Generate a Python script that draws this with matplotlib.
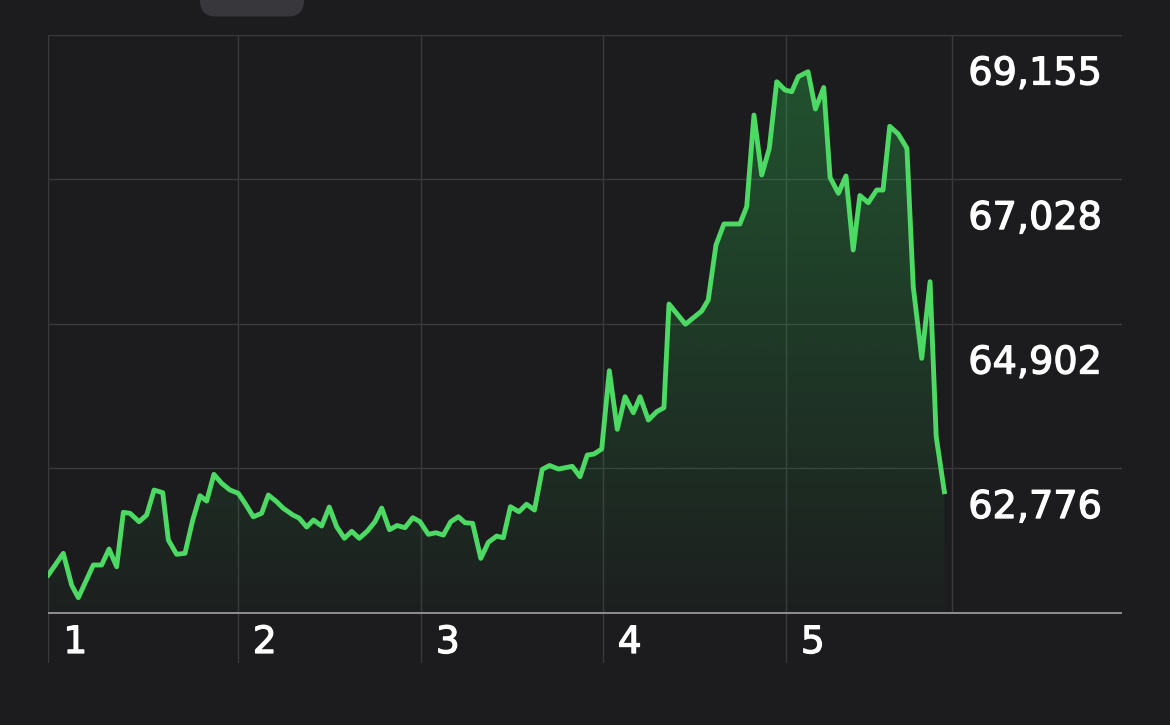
import numpy as np
import matplotlib
matplotlib.use("Agg")
import matplotlib.pyplot as plt
import matplotlib.patheffects as pe
from matplotlib.patches import FancyBboxPatch
from matplotlib.transforms import IdentityTransform

# price path over 5 sessions (x in days from start of window)
t = [0.000, 0.083, 0.129, 0.166, 0.249, 0.295, 0.336, 0.378, 0.415, 0.452,
     0.502, 0.544, 0.585, 0.633, 0.664, 0.710, 0.756, 0.799, 0.839, 0.876,
     0.916, 0.959, 1.005, 1.051, 1.088, 1.134, 1.180, 1.217, 1.263, 1.298,
     1.353, 1.387, 1.429, 1.467, 1.512, 1.554, 1.595, 1.638, 1.678, 1.720,
     1.765, 1.807, 1.844, 1.887, 1.929, 1.973, 2.016, 2.056, 2.102, 2.144,
     2.185, 2.226, 2.268, 2.305, 2.347, 2.392, 2.434, 2.480, 2.517, 2.556,
     2.603, 2.645, 2.689, 2.732, 2.773, 2.821, 2.898, 2.941, 2.981, 3.018,
     3.061, 3.103, 3.147, 3.190, 3.236, 3.273, 3.319, 3.365, 3.405, 3.433,
     3.524, 3.614, 3.650, 3.693, 3.737, 3.825, 3.863, 3.903, 3.946, 3.988,
     4.029, 4.075, 4.112, 4.148, 4.202, 4.243, 4.289, 4.324, 4.370, 4.412,
     4.452, 4.489, 4.535, 4.582, 4.617, 4.654, 4.701, 4.749, 4.784, 4.831,
     4.877, 4.911, 4.956]
price = [61202, 61521, 61054, 60868, 61349, 61349, 61584, 61324, 62124, 62110,
         61986, 62084, 62452, 62413, 61717, 61506, 61521, 62011, 62368, 62290,
         62683, 62551, 62452, 62404, 62257, 62059, 62110, 62379, 62280, 62187,
         62084, 62040, 61908, 62011, 61923, 62202, 61912, 61742, 61845, 61742,
         61849, 61986, 62187, 61868, 61930, 61898, 62045, 61986, 61800, 61824,
         61790, 61986, 62059, 61971, 61962, 61447, 61683, 61775, 61750, 62207,
         62133, 62243, 62158, 62757, 62813, 62761, 62801, 62648, 62967, 62982,
         63056, 64208, 63346, 63825, 63590, 63825, 63482, 63605, 63663, 65189,
         64892, 65086, 65248, 66058, 66367, 66367, 66621, 67970, 67088, 67480,
         68460, 68338, 68313, 68534, 68608, 68059, 68375, 67051, 66818, 67073,
         65984, 66786, 66680, 66867, 66867, 67804, 67691, 67480, 65444, 64390,
         65518, 63237, 62427]

day_starts = [0.0, 1.048, 2.060, 3.066, 4.079]
day_labels = ["1", "2", "3", "4", "5"]
y_ticks = [69155, 67028, 64902, 62776]
y_labels = ["69,155", "67,028", "64,902", "62,776"]
baseline = 60650
window_end = 5.0

BG = "#1c1c1e"
GRID = "#3a3a3c"
GREEN = "#4cd964"
font = ["DejaVu Sans"]
heavy = [pe.withStroke(linewidth=0.9, foreground="white")]

fig = plt.figure(figsize=(11.7, 7.25), dpi=100, facecolor=BG)
ax = fig.add_axes([48.3 / 1170, 62 / 725, 1073.4 / 1170, 628.5 / 725])
ax.set_facecolor(BG)
ax.axis("off")

x_max = 5.937
y_min, y_max = 59907, 69155

# grid
ax.hlines(y_ticks, 0, x_max, color=GRID, lw=1.0, zorder=1)
ax.hlines(baseline, 0, x_max, color="#8e8e93", lw=1.4, zorder=4)
ax.vlines(day_starts, y_min, y_max, color=GRID, lw=1.0, zorder=1)
ax.vlines(window_end, baseline, y_max, color=GRID, lw=1.0, zorder=1)

# gradient fill under the line
poly = ax.fill_between(t, price, baseline, facecolor="none", edgecolor="none")
n = 256
grad = np.zeros((n, 1, 4))
grad[:, 0, 0] = 48 / 255
grad[:, 0, 1] = 209 / 255
grad[:, 0, 2] = 88 / 255
grad[:, 0, 3] = np.linspace(0.02, 0.32, n)
img = ax.imshow(grad, extent=[0, t[-1], baseline, y_max], aspect="auto",
                origin="lower", zorder=2)
img.set_clip_path(poly.get_paths()[0], transform=ax.transData)

ax.plot(t, price, color=GREEN, lw=3.5, zorder=3, solid_joinstyle="round")

ax.set_xlim(0, x_max)
ax.set_ylim(y_min, y_max)

# price labels on the right
for v, lab in zip(y_ticks, y_labels):
    ax.annotate(lab, xy=(window_end, v), xytext=(16, -40),
                textcoords="offset pixels", ha="left", va="center",
                color="white", fontsize=27.5, family=font, path_effects=heavy)

# day labels
for d, lab in zip(day_starts, day_labels):
    ax.annotate(lab, xy=(d, baseline), xytext=(27, -30.5),
                textcoords="offset pixels", ha="center", va="center",
                color="white", fontsize=27, family=font, path_effects=heavy)

# tab handle at the top
fig.patches.append(FancyBboxPatch((200, 708.5), 104, 40,
                                  boxstyle="round,pad=0,rounding_size=16",
                                  transform=IdentityTransform(),
                                  facecolor="#38383c", edgecolor="none"))

fig.savefig("out.png", dpi=100, facecolor=BG)
